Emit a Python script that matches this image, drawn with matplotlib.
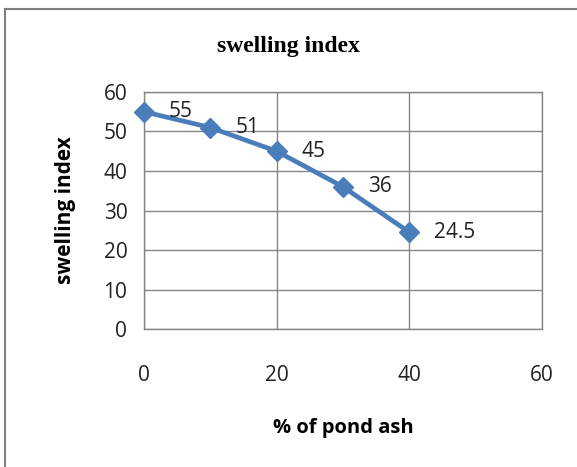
import matplotlib
matplotlib.use("Agg")
import matplotlib.pyplot as plt
from matplotlib.lines import Line2D

# data
pond_ash = [0, 10, 20, 30, 40]
swelling = [55, 51, 45, 36, 24.5]
point_labels = ["55", "51", "45", "36", "24.5"]
x_ticks = [0, 20, 40, 60]
y_ticks = [0, 10, 20, 30, 40, 50, 60]

blue = "#4a7ebb"
grid_grey = "#868686"
sans = ["Open Sans", "DejaVu Sans"]

fig = plt.figure(figsize=(5.77, 4.67), dpi=100)
ax = fig.add_axes([0.2496, 0.2955, 0.6897, 0.5075])

ax.plot(pond_ash, swelling, color=blue, lw=3.4, marker="D", ms=10,
        markeredgecolor=blue, markerfacecolor=blue, zorder=3, clip_on=False)

for x, y, lab in zip(pond_ash, swelling, point_labels):
    ax.annotate(lab, (x, y), xytext=(18, 0), textcoords="offset points",
                ha="left", va="center", fontsize=15, family=sans,
                color="#222222")

ax.set_xlim(0, 60)
ax.set_ylim(0, 60)
ax.set_xticks(x_ticks)
ax.set_yticks(y_ticks)
ax.tick_params(length=0, labelsize=15, colors="#222222")
ax.tick_params(axis="x", pad=26)
ax.tick_params(axis="y", pad=12)
for lab in ax.get_xticklabels() + ax.get_yticklabels():
    lab.set_family(sans)

ax.grid(True, color=grid_grey, lw=1)
ax.set_axisbelow(True)
for sp in ax.spines.values():
    sp.set_color(grid_grey)
    sp.set_linewidth(1)

ax.set_xlabel("% of pond ash", fontsize=14.5, fontweight="bold",
              family=sans, labelpad=23)
ax.set_ylabel("swelling index", fontsize=15, fontweight="bold",
              family=sans, labelpad=20)
fig.text(0.5, 0.9, "swelling index", ha="center", va="center",
         fontsize=17, fontweight="bold", family="Liberation Serif")

# outer chart border (only left and top edges show in the crop)
fig.add_artist(Line2D([0.0095, 0.0095], [0, 0.981], transform=fig.transFigure,
                      color="#7f7f7f", lw=1.5))
fig.add_artist(Line2D([0.0095, 1.0], [0.981, 0.981], transform=fig.transFigure,
                      color="#7f7f7f", lw=1.5))

fig.savefig("out.png", dpi=100)
